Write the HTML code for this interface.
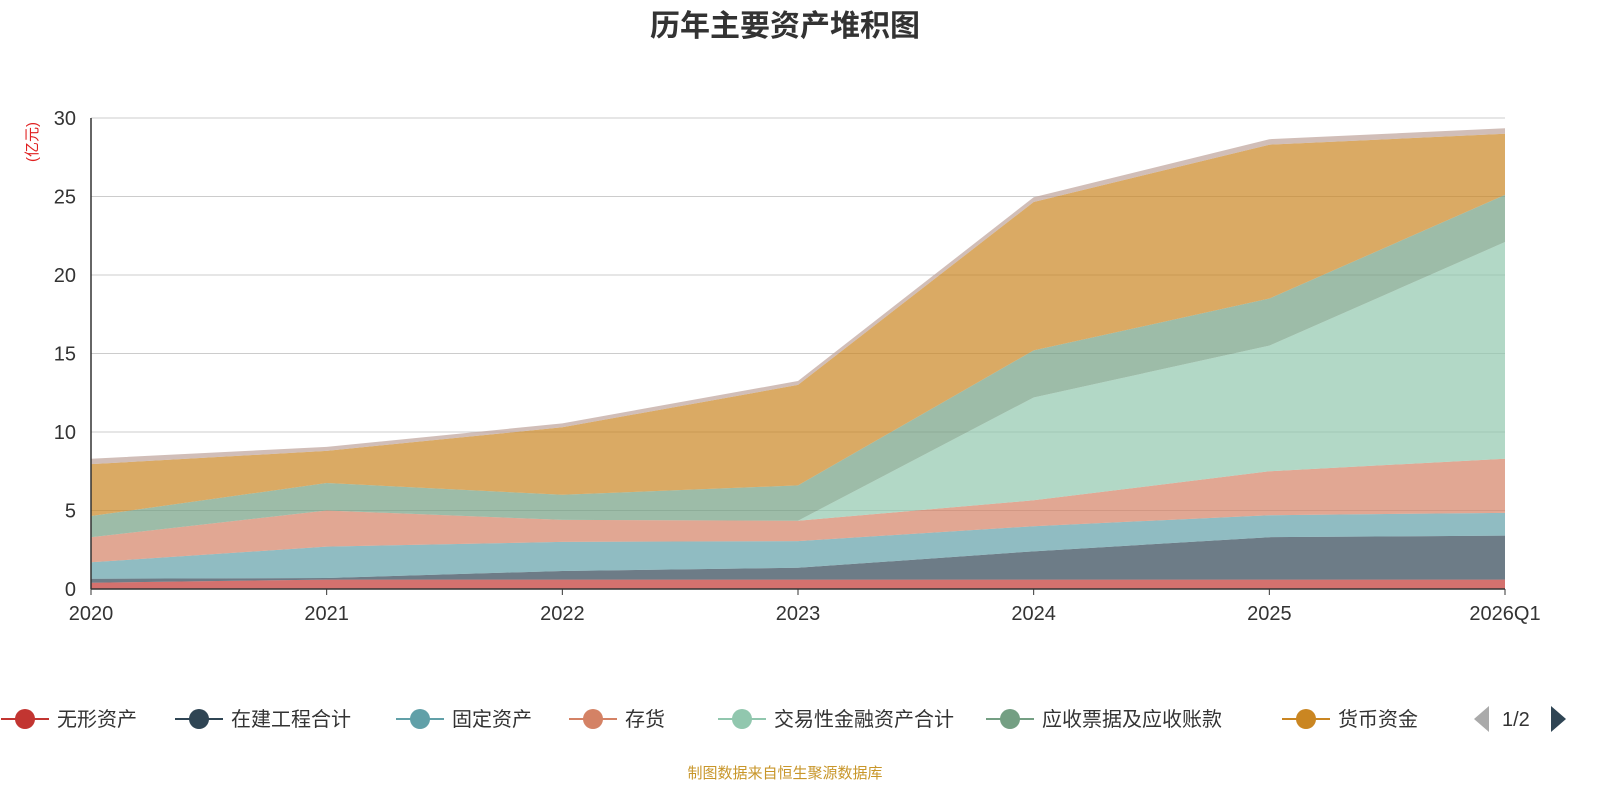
<!DOCTYPE html>
<html><head><meta charset="utf-8">
<style>
body{margin:0;background:#fff;width:1600px;height:800px;overflow:hidden;font-family:"Liberation Sans","Noto Sans CJK SC",sans-serif;}
svg text{font-family:"Liberation Sans","Noto Sans CJK SC",sans-serif;}
</style></head>
<body>
<svg id="chart" width="1600" height="800"></svg>
<script>
const categories=["2020","2021","2022","2023","2024","2025","2026Q1"];
const seriesNames=["无形资产","在建工程合计","固定资产","存货","交易性金融资产合计","应收票据及应收账款","货币资金","其他"];
const sIntangible=[0.4,0.6,0.6,0.6,0.6,0.6,0.6];
const sConstruction=[0.25,0.1,0.55,0.75,1.8,2.7,2.8];
const sFixed=[1.05,2.0,1.85,1.7,1.6,1.4,1.45];
const sInventory=[1.6,2.3,1.4,1.3,1.65,2.8,3.45];
const sTrading=[0,0,0,0,6.55,8.0,13.8];
const sReceivable=[1.35,1.75,1.6,2.25,3.0,3.0,3.0];
const sCash=[3.3,2.05,4.3,6.4,9.45,9.8,3.9];
const sOther=[0.35,0.25,0.25,0.25,0.3,0.35,0.35];
const yTicks=[0,5,10,15,20,25,30];
const series=[sIntangible,sConstruction,sFixed,sInventory,sTrading,sReceivable,sCash,sOther];
const colors=["#c23531","#2f4554","#61a0a8","#d48265","#91c7ae","#749f83","#ca8622","#bda29a"];
const NS="http://www.w3.org/2000/svg";
const svg=document.getElementById('chart');
const X0=91,X1=1505,Y0=589,Y1=118;
const xs=i=>X0+(X1-X0)*i/(categories.length-1);
const ys=v=>Y0-(Y0-Y1)*v/30;
function mk(t,a,p){const e=document.createElementNS(NS,t);for(const k in a)e.setAttribute(k,a[k]);(p||svg).appendChild(e);return e;}
// title
let t=mk('text',{x:785,y:36,'text-anchor':'middle','font-size':30,'font-weight':'bold',fill:'#333'});t.textContent='历年主要资产堆积图';

// grid + y ticks
yTicks.forEach(v=>{
 const g=mk('line',{x1:X0,x2:X1,y1:ys(v),y2:ys(v),stroke:'#ccc','stroke-width':1});
 
 const l=mk('text',{x:76,y:ys(v)+7,'text-anchor':'end','font-size':20,fill:'#333'});l.textContent=v;
 
});
let yt=mk('text',{x:0,y:0,'font-size':15,fill:'#e02020',transform:'translate(37,142) rotate(-90)','text-anchor':'middle'});yt.textContent='(亿元)';

// areas
let base=categories.map(()=>0);
series.forEach((s,si)=>{
 const top=base.map((b,i)=>b+s[i]);
 let d='M'+categories.map((c,i)=>xs(i)+','+ys(top[i])).join(' L');
 for(let i=categories.length-1;i>=0;i--)d+=' L'+xs(i)+','+ys(base[i]);
 d+=' Z';
 const p=mk('path',{d:d,fill:colors[si],'fill-opacity':0.7,stroke:'none'});
 
 base=top;
});
// axes
let ax=mk('line',{x1:X0,x2:X1,y1:Y0,y2:Y0,stroke:'#333','stroke-width':1.5});

let ay=mk('line',{x1:X0,x2:X0,y1:Y1,y2:Y0,stroke:'#333','stroke-width':1.5});

categories.forEach((c,i)=>{
 mk('line',{x1:xs(i),x2:xs(i),y1:Y0,y2:Y0+6,stroke:'#333'});
 const l=mk('text',{x:xs(i),y:620,'text-anchor':'middle','font-size':20,fill:'#333'});l.textContent=c;
 
});
// legend
const lx=[25,199,420,593,742,1010,1306];
for(let i=0;i<7;i++){
 const g=mk('g',{});
 
 mk('line',{x1:lx[i]-24,x2:lx[i]+24,y1:719,y2:719,stroke:colors[i],'stroke-width':2},g);
 mk('circle',{cx:lx[i],cy:719,r:10,fill:colors[i]},g);
 const l=mk('text',{x:lx[i]+32,y:726,'font-size':20,fill:'#333'},g);l.textContent=seriesNames[i];
}
let pl=mk('path',{d:'M1489,706 L1489,732 L1474,719 Z',fill:'#aaa'});
let pg=mk('text',{x:1502,y:726,'font-size':20,fill:'#333'});pg.textContent='1/2';
let pn=mk('path',{d:'M1551,706 L1551,732 L1566,719 Z',fill:'#2f4554'});
let ft=mk('text',{x:785,y:778,'text-anchor':'middle','font-size':15,fill:'#c8962a'});ft.textContent='制图数据来自恒生聚源数据库';

</script>
</body></html>
